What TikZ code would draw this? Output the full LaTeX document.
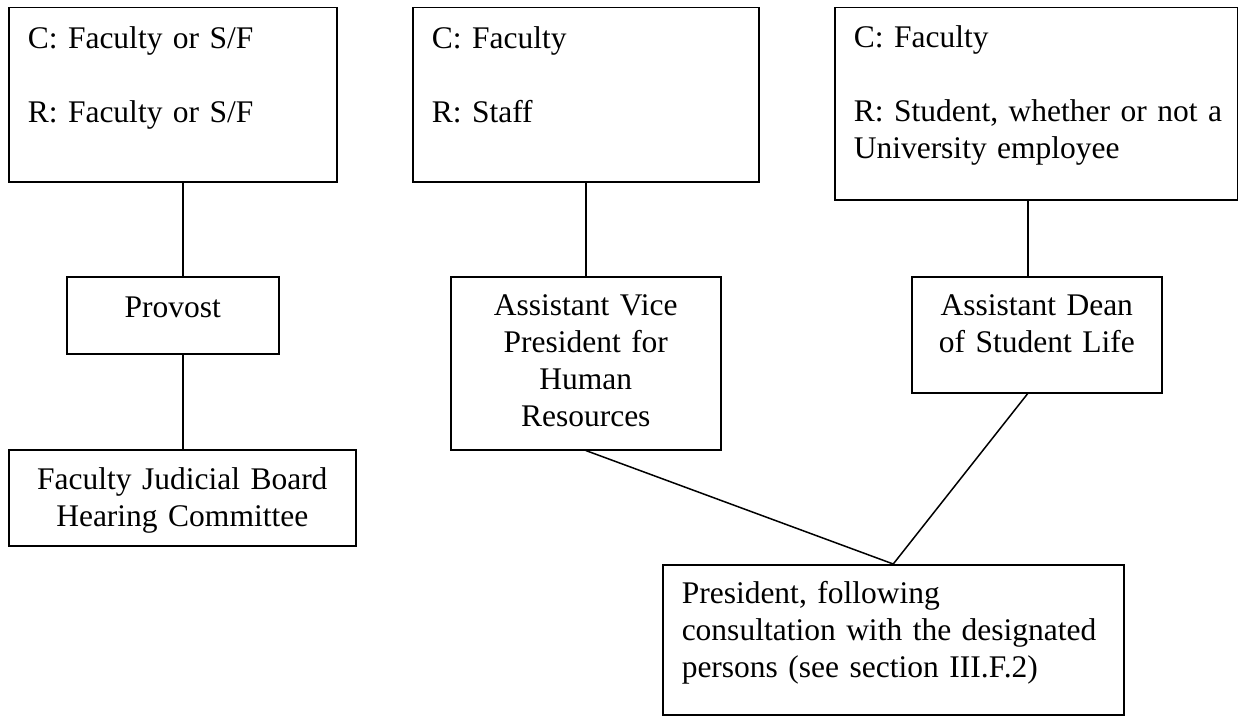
\documentclass[tikz,border=0pt]{standalone}
\usepackage{fontspec}
\setmainfont{Liberation Serif}
\usetikzlibrary{calc}

\tikzset{
	box/.style={draw, line width=1.5pt, anchor=north west, inner xsep=19pt, inner ysep=0pt, font=\fontsize{31.5}{37}\selectfont\frenchspacing},
	leftbox/.style={box, align=left},
	midbox/.style={box, align=center},
	link/.style={line width=1.5pt}
}

\begin{document}
\begin{tikzpicture}[x=1pt, y=-1pt]
			%%%%% START %%%%%
			
			\useasboundingbox (0, 0) rectangle (1238, 717);
			
			% top row
			\node[leftbox, text width=290pt, text height=41pt, text depth=133pt] (cfbox) at (8, 7) {C: Faculty or S/F\\[37pt]R: Faculty or S/F};
			\node[leftbox, text width=308pt, text height=41pt, text depth=133pt] (csbox) at (412, 7) {C: Faculty\\[37pt]R: Staff};
			\node[leftbox, text width=365pt, text height=40pt, text depth=152pt] (crbox) at (834, 7) {C: Faculty\\[37pt]\mbox{R: Student, whether or not a}\\University employee};
			
			% middle row
			\node[midbox, text width=174pt, text height=41pt, text depth=36pt] (provost) at (66, 276) {Provost};
			\node[midbox, text width=232pt, text height=39pt, text depth=134pt] (avp) at (450, 276) {Assistant Vice\\President for\\Human\\Resources};
			\node[midbox, text width=212pt, text height=39pt, text depth=77pt] (dean) at (911, 276) {Assistant Dean\\of Student Life};
			
			% bottom row
			\node[midbox, text width=309pt, text height=40pt, text depth=56pt] (fjb) at (8, 449) {Faculty Judicial Board\\Hearing Committee};
			\node[leftbox, text width=423pt, text height=39pt, text depth=111pt] (pres) at (662, 564) {President, following\\consultation with the designated\\persons (see section III.F.2)};
			
			% links
			\draw[link] ([xshift=0.5pt]fjb.north |- cfbox.south) -- ([xshift=0.5pt]fjb.north |- provost.north);
			\draw[link] ([xshift=0.5pt]fjb.north |- provost.south) -- ([xshift=0.5pt]fjb.north);
			\draw[link] (csbox.south) -- (avp.north);
			\draw[link] ([xshift=-9pt]dean.north |- crbox.south) -- ([xshift=-9pt]dean.north);
			\draw[link] (avp.south) -- (pres.north);
			\draw[link] ([xshift=-9pt]dean.south) -- (pres.north);
			
			%%%%% END %%%%%
		\end{tikzpicture}
\end{document}
